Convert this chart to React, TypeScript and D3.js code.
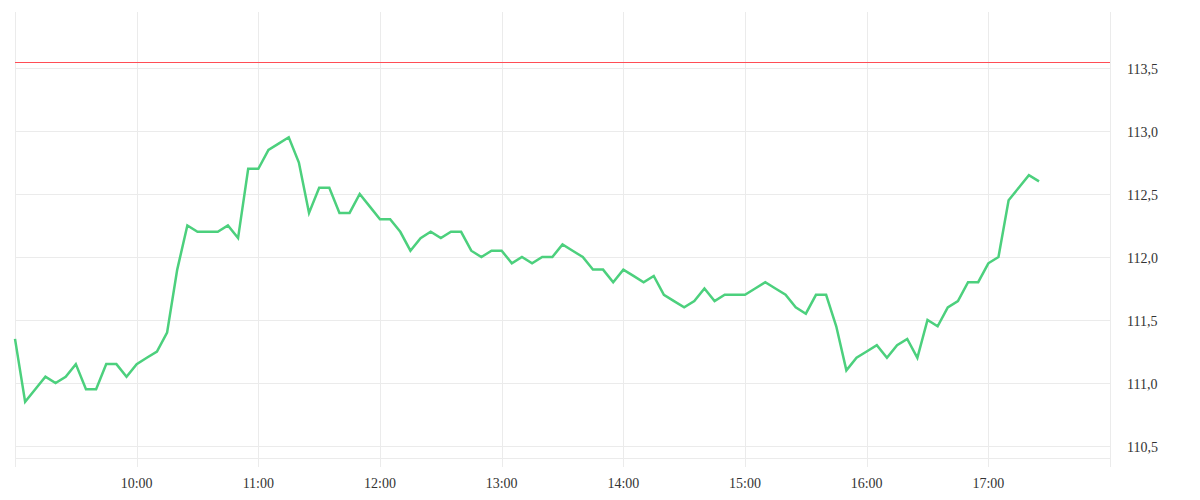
import React, { useEffect, useRef } from 'react';
import * as d3 from 'd3';

// 5-minute prices, 09:00 to 17:25
const times = [
  '09:00', '09:05', '09:10', '09:15', '09:20', '09:25', '09:30', '09:35', '09:40', '09:45', '09:50', '09:55',
  '10:00', '10:05', '10:10', '10:15', '10:20', '10:25', '10:30', '10:35', '10:40', '10:45', '10:50', '10:55',
  '11:00', '11:05', '11:10', '11:15', '11:20', '11:25', '11:30', '11:35', '11:40', '11:45', '11:50', '11:55',
  '12:00', '12:05', '12:10', '12:15', '12:20', '12:25', '12:30', '12:35', '12:40', '12:45', '12:50', '12:55',
  '13:00', '13:05', '13:10', '13:15', '13:20', '13:25', '13:30', '13:35', '13:40', '13:45', '13:50', '13:55',
  '14:00', '14:05', '14:10', '14:15', '14:20', '14:25', '14:30', '14:35', '14:40', '14:45', '14:50', '14:55',
  '15:00', '15:05', '15:10', '15:15', '15:20', '15:25', '15:30', '15:35', '15:40', '15:45', '15:50', '15:55',
  '16:00', '16:05', '16:10', '16:15', '16:20', '16:25', '16:30', '16:35', '16:40', '16:45', '16:50', '16:55',
  '17:00', '17:05', '17:10', '17:15', '17:20', '17:25'
];

const prices = [
  111.35, 110.85, 110.95, 111.05, 111.0, 111.05, 111.15, 110.95, 110.95, 111.15, 111.15, 111.05,
  111.15, 111.2, 111.25, 111.4, 111.9, 112.25, 112.2, 112.2, 112.2, 112.25, 112.15, 112.7,
  112.7, 112.85, 112.9, 112.95, 112.75, 112.35, 112.55, 112.55, 112.35, 112.35, 112.5, 112.4,
  112.3, 112.3, 112.2, 112.05, 112.15, 112.2, 112.15, 112.2, 112.2, 112.05, 112.0, 112.05,
  112.05, 111.95, 112.0, 111.95, 112.0, 112.0, 112.1, 112.05, 112.0, 111.9, 111.9, 111.8,
  111.9, 111.85, 111.8, 111.85, 111.7, 111.65, 111.6, 111.65, 111.75, 111.65, 111.7, 111.7,
  111.7, 111.75, 111.8, 111.75, 111.7, 111.6, 111.55, 111.7, 111.7, 111.45, 111.1, 111.2,
  111.25, 111.3, 111.2, 111.3, 111.35, 111.2, 111.5, 111.45, 111.6, 111.65, 111.8, 111.8,
  111.95, 112.0, 112.45, 112.55, 112.65, 112.6
];

const yTicks = [110.5, 111.0, 111.5, 112.0, 112.5, 113.0, 113.5];
const xTickLabels = ['10:00', '11:00', '12:00', '13:00', '14:00', '15:00', '16:00', '17:00'];
const gridHours = ['09:00', '10:00', '11:00', '12:00', '13:00', '14:00', '15:00', '16:00', '17:00', '18:00'];
const referenceLevel = 113.55;

const parse = (s: string) => d3.timeParse('%H:%M')(s) as Date;

const App = () => {
  const ref = useRef<SVGSVGElement>(null);

  useEffect(() => {
    const svg = d3.select(ref.current);
    svg.selectAll('*').remove();

    const left = 15;
    const right = 1110;
    const top = 12;
    const bottom = 458;

    const x = d3.scaleTime()
      .domain([parse('09:00'), parse('18:00')])
      .range([left, right]);

    // 0.5 step is 63px
    const y = d3.scaleLinear()
      .domain([110.5, 113.5])
      .range([446, 68]);

    const gridColor = '#ebebeb';

    // vertical grid
    svg.append('g')
      .selectAll('line')
      .data(gridHours)
      .enter()
      .append('line')
      .attr('x1', d => Math.round(x(parse(d))) + 0.5)
      .attr('x2', d => Math.round(x(parse(d))) + 0.5)
      .attr('y1', top)
      .attr('y2', 467)
      .attr('stroke', gridColor)
      .attr('stroke-width', 1);

    // horizontal grid
    svg.append('g')
      .selectAll('line')
      .data(yTicks)
      .enter()
      .append('line')
      .attr('x1', left)
      .attr('x2', right)
      .attr('y1', d => Math.round(y(d)) + 0.5)
      .attr('y2', d => Math.round(y(d)) + 0.5)
      .attr('stroke', gridColor)
      .attr('stroke-width', 1);

    // bottom axis line
    svg.append('line')
      .attr('x1', left)
      .attr('x2', right)
      .attr('y1', bottom + 0.5)
      .attr('y2', bottom + 0.5)
      .attr('stroke', gridColor);

    // y labels on the right
    svg.append('g')
      .selectAll('text')
      .data(yTicks)
      .enter()
      .append('text')
      .attr('x', 1127)
      .attr('y', d => y(d) + 6)
      .attr('font-size', '14px')
      .attr('fill', '#333')
      .text(d => d.toFixed(1).replace('.', ','));

    // x labels
    svg.append('g')
      .selectAll('text')
      .data(xTickLabels)
      .enter()
      .append('text')
      .attr('x', d => x(parse(d)))
      .attr('y', 488)
      .attr('text-anchor', 'middle')
      .attr('font-size', '14px')
      .attr('fill', '#333')
      .text(d => d);

    // reference line
    const refY = Math.round(y(referenceLevel)) + 0.5;
    svg.append('line')
      .attr('x1', left)
      .attr('x2', right)
      .attr('y1', refY)
      .attr('y2', refY)
      .attr('stroke', '#ff4d55')
      .attr('stroke-width', 1);

    const line = d3.line<number>()
      .x((_, i) => x(parse(times[i])))
      .y(d => y(d));

    svg.append('path')
      .datum(prices)
      .attr('d', line)
      .attr('fill', 'none')
      .attr('stroke', '#4cd07d')
      .attr('stroke-width', 2.5)
      .attr('stroke-linejoin', 'miter');
  }, []);

  return (
    <svg
      ref={ref}
      width={1200}
      height={500}
      style={{ position: 'absolute', left: 0, top: 0 }}
    />
  );
};

export default App;
